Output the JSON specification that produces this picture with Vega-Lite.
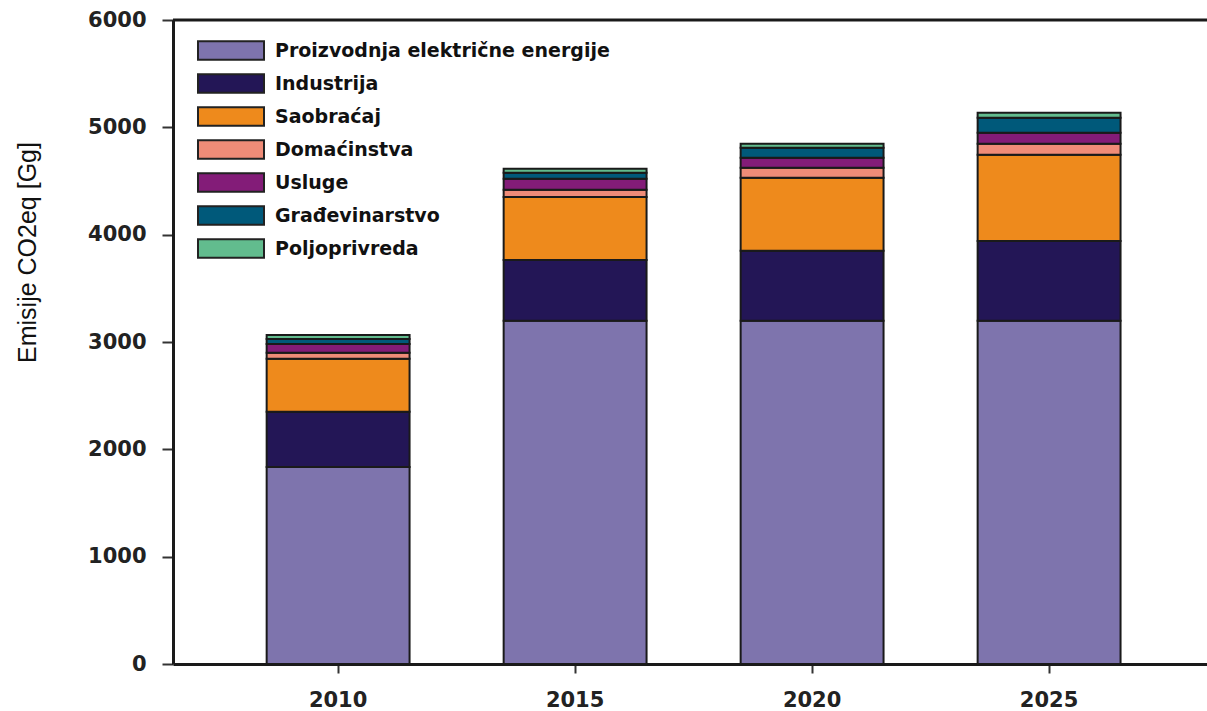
{
  "$schema": "https://vega.github.io/schema/vega-lite/v6.json",
  "width": 1034,
  "height": 644,
  "autosize": "none",
  "padding": {"left": 173, "top": 20, "right": 0, "bottom": 47},
  "background": "white",
  "config": {"view": {"stroke": null}},
  "datasets": {
    "emis": [
      {"godina": "2010", "sektor": "Proizvodnja električne energije", "red": 1, "v": 1836},
      {"godina": "2010", "sektor": "Industrija", "red": 2, "v": 513},
      {"godina": "2010", "sektor": "Saobraćaj", "red": 3, "v": 494},
      {"godina": "2010", "sektor": "Domaćinstva", "red": 4, "v": 56},
      {"godina": "2010", "sektor": "Usluge", "red": 5, "v": 83},
      {"godina": "2010", "sektor": "Građevinarstvo", "red": 6, "v": 47},
      {"godina": "2010", "sektor": "Poljoprivreda", "red": 7, "v": 37},
      {"godina": "2015", "sektor": "Proizvodnja električne energije", "red": 1, "v": 3197},
      {"godina": "2015", "sektor": "Industrija", "red": 2, "v": 568},
      {"godina": "2015", "sektor": "Saobraćaj", "red": 3, "v": 587},
      {"godina": "2015", "sektor": "Domaćinstva", "red": 4, "v": 66},
      {"godina": "2015", "sektor": "Usluge", "red": 5, "v": 102},
      {"godina": "2015", "sektor": "Građevinarstvo", "red": 6, "v": 56},
      {"godina": "2015", "sektor": "Poljoprivreda", "red": 7, "v": 37},
      {"godina": "2020", "sektor": "Proizvodnja električne energije", "red": 1, "v": 3197},
      {"godina": "2020", "sektor": "Industrija", "red": 2, "v": 652},
      {"godina": "2020", "sektor": "Saobraćaj", "red": 3, "v": 681},
      {"godina": "2020", "sektor": "Domaćinstva", "red": 4, "v": 93},
      {"godina": "2020", "sektor": "Usluge", "red": 5, "v": 93},
      {"godina": "2020", "sektor": "Građevinarstvo", "red": 6, "v": 93},
      {"godina": "2020", "sektor": "Poljoprivreda", "red": 7, "v": 37},
      {"godina": "2025", "sektor": "Proizvodnja električne energije", "red": 1, "v": 3197},
      {"godina": "2025", "sektor": "Industrija", "red": 2, "v": 745},
      {"godina": "2025", "sektor": "Saobraćaj", "red": 3, "v": 802},
      {"godina": "2025", "sektor": "Domaćinstva", "red": 4, "v": 102},
      {"godina": "2025", "sektor": "Usluge", "red": 5, "v": 103},
      {"godina": "2025", "sektor": "Građevinarstvo", "red": 6, "v": 140},
      {"godina": "2025", "sektor": "Poljoprivreda", "red": 7, "v": 46}
    ],
    "top": [{"y": 6000}]
  },
  "layer": [
    {
      "data": {"name": "emis"},
      "mark": {"type": "bar", "stroke": "#1a1a1a", "strokeWidth": 2},
      "encoding": {
        "x": {
          "field": "godina", "type": "ordinal",
          "scale": {"paddingInner": 0.397, "paddingOuter": 0.38, "align": 0.52},
          "axis": {
            "title": null, "labelAngle": 0,
            "labelFont": "DejaVu Sans", "labelFontWeight": "bold", "labelFontSize": 21,
            "labelColor": "#222222", "labelPadding": 16,
            "domainColor": "#1a1a1a", "domainWidth": 3,
            "tickColor": "#333333", "tickWidth": 2, "tickSize": 9
          }
        },
        "y": {
          "field": "v", "type": "quantitative", "stack": "zero",
          "scale": {"domain": [0, 6000], "nice": false},
          "axis": {
            "values": [0, 1000, 2000, 3000, 4000, 5000, 6000],
            "format": "d",
            "grid": false,
            "title": "Emisije CO2eq [Gg]",
            "titleFont": "Liberation Sans", "titleFontWeight": "normal", "titleFontSize": 25,
            "titleColor": "#111111", "titleAngle": -90, "titleAlign": "center", "titleBaseline": "middle",
            "titleX": -146, "titleY": 232,
            "labelFont": "DejaVu Sans", "labelFontWeight": "bold", "labelFontSize": 21,
            "labelColor": "#222222", "labelPadding": 16,
            "domainColor": "#1a1a1a", "domainWidth": 3,
            "tickColor": "#333333", "tickWidth": 2, "tickSize": 11
          }
        },
        "order": {"field": "red", "type": "quantitative"},
        "color": {
          "field": "sektor", "type": "nominal",
          "sort": ["Proizvodnja električne energije", "Industrija", "Saobraćaj", "Domaćinstva", "Usluge", "Građevinarstvo", "Poljoprivreda"],
          "scale": {
            "domain": ["Proizvodnja električne energije", "Industrija", "Saobraćaj", "Domaćinstva", "Usluge", "Građevinarstvo", "Poljoprivreda"],
            "range": ["#7e74ad", "#231656", "#ee8a1c", "#f08c78", "#831c78", "#00597a", "#62bc8e"]
          },
          "legend": {
            "title": null, "orient": "none", "legendX": 24, "legendY": 14,
            "symbolType": "M-1,-0.28H1V0.28H-1Z", "symbolSize": 4356,
            "symbolStrokeColor": "#222222", "symbolStrokeWidth": 2, "symbolOpacity": 1,
            "labelFont": "DejaVu Sans", "labelFontWeight": "bold", "labelFontSize": 19,
            "labelColor": "#111111", "labelOffset": 10, "rowPadding": 0, "clipHeight": 33, "labelLimit": 500
          }
        }
      }
    },
    {
      "data": {"name": "top"},
      "mark": {"type": "rule", "color": "#1a1a1a", "strokeWidth": 3},
      "encoding": {"y": {"field": "y", "type": "quantitative"}}
    }
  ]
}
